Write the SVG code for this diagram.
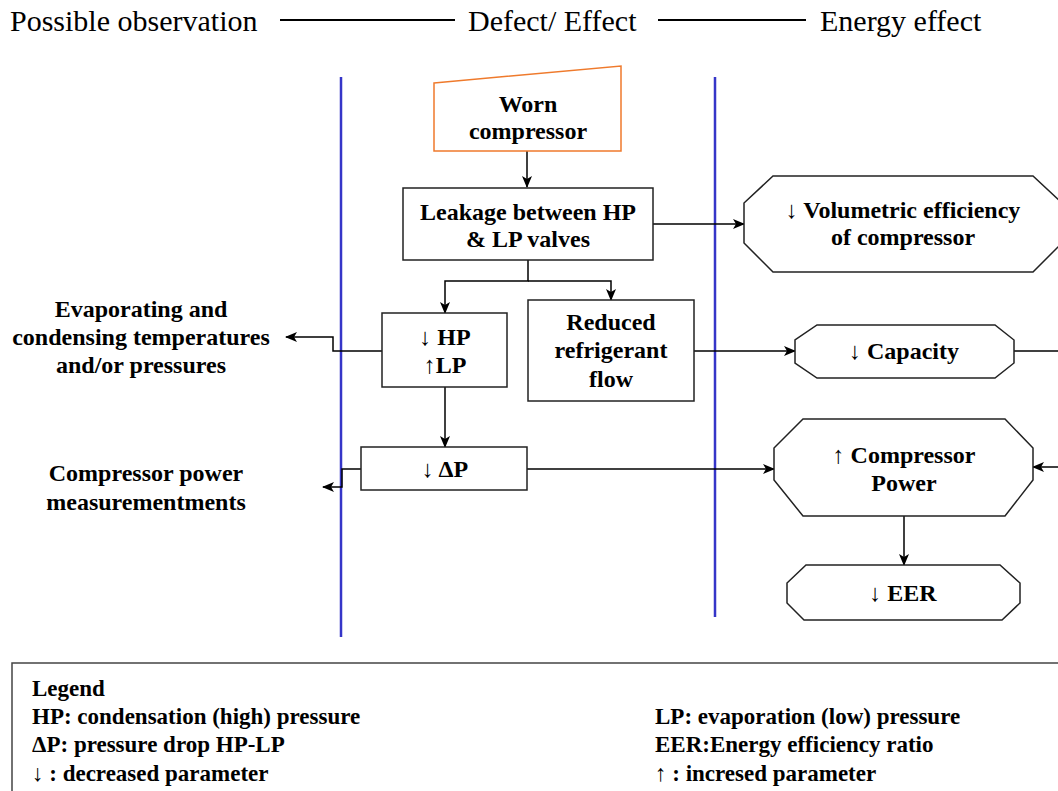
<svg xmlns="http://www.w3.org/2000/svg" width="1058" height="791" viewBox="0 0 1058 791">
<defs>
<marker id="ah" viewBox="0 0 12 10" refX="11" refY="5" markerWidth="12" markerHeight="10" markerUnits="userSpaceOnUse" orient="auto">
<path d="M0,0 L12,5 L0,10 L3,5 z" fill="#000"/>
</marker>
</defs>
<rect width="1058" height="791" fill="#fff"/>
<g id="lanes" stroke="#3535c8" stroke-width="2.5">
<line x1="341" y1="77" x2="341" y2="637"/>
<line x1="715" y1="77" x2="715" y2="617"/>
</g>
<g id="connectors" fill="none" stroke="#000" stroke-width="1.5">
<path d="M527,151 V187" marker-end="url(#ah)"/>
<path d="M653,224 H744" marker-end="url(#ah)"/>
<path d="M528,260 V281 H445 V313" marker-end="url(#ah)"/>
<path d="M528,281 H611 V300" marker-end="url(#ah)"/>
<path d="M382,351 H333 V337 H286" marker-end="url(#ah)"/>
<path d="M445,387 V447" marker-end="url(#ah)"/>
<path d="M361,469 H342 V487 H323" marker-end="url(#ah)"/>
<path d="M527,469 H774" marker-end="url(#ah)"/>
<path d="M694,351 H795" marker-end="url(#ah)"/>
<path d="M1014,351 H1062"/>
<path d="M1062,467 H1033" marker-end="url(#ah)"/>
<path d="M904,516 V565" marker-end="url(#ah)"/>
</g>
<g id="header" font-family="Liberation Serif" font-size="30">
<text x="10" y="31">Possible observation</text>
<line x1="280" y1="20" x2="455" y2="20" stroke="#000" stroke-width="2"/>
<text x="468" y="31">Defect/ Effect</text>
<line x1="658" y1="20" x2="806" y2="20" stroke="#000" stroke-width="2"/>
<text x="820" y="31">Energy effect</text>
</g>
<g font-family="Liberation Serif" font-size="24" font-weight="bold" text-anchor="middle">
<g id="worn">
<polygon points="434,83 621,66 621,151 434,151" fill="#fff" stroke="#ef7a2c" stroke-width="1.5"/>
<text x="528" y="112">Worn</text>
<text x="528" y="139">compressor</text>
</g>
<g fill="#fff" stroke="#222" stroke-width="1.5">
<rect id="leakage-box" x="403" y="188" width="250" height="72"/>
<polygon id="volumetric-box" points="773,176 1033,176 1062,203 1062,243 1033,272 773,272 744,243 744,203"/>
<rect id="hplp-box" x="382" y="313" width="125" height="74"/>
<rect id="reduced-box" x="528" y="300" width="166" height="101"/>
<polygon id="capacity-box" points="817,325 995,325 1014,340 1014,363 995,378 817,378 795,363 795,340"/>
<rect id="deltap-box" x="361" y="447" width="166" height="43"/>
<polygon id="comppower-box" points="803,419 1005,419 1033,448 1033,480 1005,516 803,516 774,480 774,448"/>
<polygon id="eer-box" points="806,565 1000,565 1020,583 1020,603 1002,620 804,620 787,603 787,583"/>
</g>
<g id="leakage">
<text x="528" y="220">Leakage between HP</text>
<text x="528" y="247">&amp; LP valves</text>
</g>
<g id="volumetric">
<text x="903" y="218">↓ Volumetric efficiency</text>
<text x="903" y="245">of compressor</text>
</g>
<g id="hplp">
<text x="445" y="345">↓ HP</text>
<text x="445" y="373">↑LP</text>
</g>
<g id="reduced">
<text x="611" y="330">Reduced</text>
<text x="611" y="358">refrigerant</text>
<text x="611" y="387">flow</text>
</g>
<g id="evaporating">
<text x="141" y="317">Evaporating and</text>
<text x="141" y="345">condensing temperatures</text>
<text x="141" y="373">and/or pressures</text>
</g>
<g id="capacity">
<text x="904" y="359">↓ Capacity</text>
</g>
<g id="deltap">
<text x="445" y="477">↓ ΔP</text>
</g>
<g id="powermeas">
<text x="146" y="481">Compressor power</text>
<text x="146" y="510">measurementments</text>
</g>
<g id="comppower">
<text x="904" y="463">↑ Compressor</text>
<text x="904" y="491">Power</text>
</g>
<g id="eer">
<text x="903" y="601">↓ EER</text>
</g>
</g>
<g id="legend" font-family="Liberation Serif" font-size="23" font-weight="bold">
<rect x="12" y="663" width="1060" height="140" fill="none" stroke="#444" stroke-width="1.5"/>
<text x="32" y="696">Legend</text>
<text x="32" y="724">HP: condensation (high) pressure</text>
<text x="32" y="752">ΔP: pressure drop HP-LP</text>
<text x="32" y="781">↓ : decreased parameter</text>
<text x="655" y="724">LP: evaporation (low) pressure</text>
<text x="655" y="752">EER:Energy efficiency ratio</text>
<text x="655" y="781">↑ : incresed parameter</text>
</g>
</svg>
